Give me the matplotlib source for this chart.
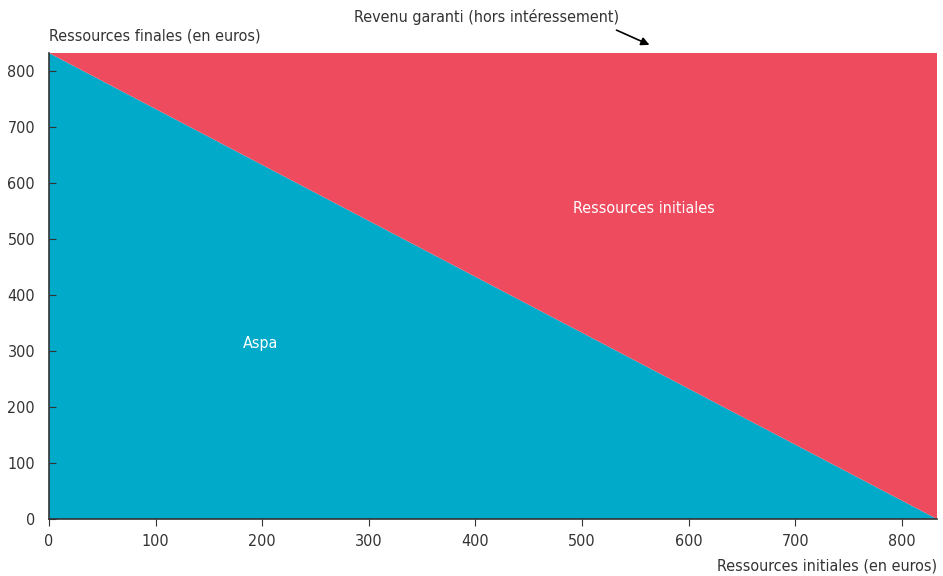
import numpy as np
import matplotlib
matplotlib.use("Agg")
import matplotlib.pyplot as plt
from matplotlib import font_manager

# données : revenu garanti 833 euros
ressources_initiales = [0, 833]
aspa = [833, 0]
revenu_garanti = 833
ticks = [0, 100, 200, 300, 400, 500, 600, 700, 800]

names = {f.name for f in font_manager.fontManager.ttflist}
if "Liberation Sans Narrow" in names:
    plt.rcParams['font.family'] = ["Liberation Sans Narrow", 'DejaVu Sans']
else:
    plt.rcParams['font.family'] = ['DejaVu Sans']
    plt.rcParams['font.stretch'] = 'condensed'

teal = "#01AAC9"
rouge = "#EE4B5F"
gris = "#333333"
fs = 11.5

fig = plt.figure(figsize=(9.43, 5.76), dpi=100)
ax = fig.add_axes([49 / 943, 1 - 519 / 576, 888 / 943, 466 / 576])

x = np.array(ressources_initiales)
ax.stackplot(x, aspa, x, colors=[teal, rouge], linewidth=0)

ax.set_xlim(0, revenu_garanti)
ax.set_ylim(0, revenu_garanti)
ax.set_xticks(ticks)
ax.set_yticks(ticks)
ax.tick_params(axis='x', direction='out', length=5, color=gris, labelsize=fs, labelcolor=gris, pad=6)
ax.tick_params(axis='y', direction='in', length=5, color=gris, labelsize=fs, labelcolor=gris, pad=10)
for s in ['top', 'right']:
    ax.spines[s].set_visible(False)
for s in ['left', 'bottom']:
    ax.spines[s].set_color(gris)
    ax.spines[s].set_linewidth(1.2)
    ax.spines[s].set_zorder(5)

ax.text(198, 314, "Aspa", color="white", fontsize=fs, ha='center', va='center')
ax.text(558, 555, "Ressources initiales", color="white", fontsize=fs, ha='center', va='center')

fig.text(49 / 943, 1 - 36 / 576, "Ressources finales (en euros)", fontsize=fs, color=gris,
         ha='left', va='center')
fig.text(937 / 943, 1 - 566 / 576, "Ressources initiales (en euros)", fontsize=fs, color=gris,
         ha='right', va='center')
fig.text(487 / 943, 1 - 17 / 576, "Revenu garanti (hors intéressement)", fontsize=fs, color=gris,
         ha='center', va='center')
ax.annotate("", xy=(652 / 943, 1 - 46 / 576), xytext=(614 / 943, 1 - 29 / 576),
            xycoords='figure fraction', textcoords='figure fraction',
            arrowprops=dict(arrowstyle='-|>', color='black', lw=1.2, mutation_scale=12),
            annotation_clip=False)

fig.savefig("out.png", dpi=100)
